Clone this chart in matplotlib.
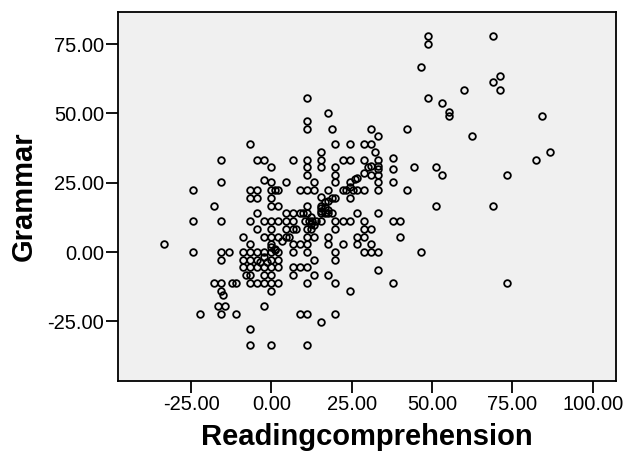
import matplotlib
matplotlib.use("Agg")
import matplotlib.pyplot as plt

plt.rcParams['font.family'] = ['Liberation Sans', 'DejaVu Sans']

# Readingcomprehension (x) and Grammar (y)
reading = [48.8, 48.8, 68.9, 46.6, 71.1, 68.9, 71.1, 59.9, 48.8, 53.2,
           55.4, 55.4, 84.3, 62.3, 42.1, 86.7, 82.2, 44.5, 51.1, 53.2,
           73.2, 51.1, 68.9, 46.6, 73.2, 42.1,
           11.1, 11.1, 11.1, 17.7, 18.8, 31.0, 33.2, -6.7, 19.9, 24.4,
           28.8, 31.0, 15.4, 32.1, -15.6, -4.5, -2.2, 6.6, 11.1, 15.4,
           22.2, 24.4, 28.8, 33.2, 37.7, 0.0, 11.1, 15.4, 19.9, 30.0,
           31.0, 33.2, 33.2, 37.7, 11.1, 19.9, 28.8, 31.0, 33.2, 26.0,
           26.5, -15.6, -2.2, 0.0, 4.4, 13.3, 19.9, 24.4, 33.2, 37.7,
           -24.4, -6.7, -4.5, 0.0, 1.1, 2.2, 8.8, 11.1, 13.3, 17.7,
           22.2, 23.3, 25.5, 26.5, 28.8, 33.2, 24.4, -6.7, -4.5, 0.0,
           15.4, 17.7, 18.8, 19.9, 24.4, 16.6, -17.8, 0.0, 2.2, 11.1,
           15.4, 15.4, 16.6, 15.4, 17.7, -4.5, 4.4, 6.6, 8.8, 9.9,
           11.1, 15.4, 16.6, 17.7, 18.8, 26.5, 33.2, 12.2, -24.4, -15.6,
           -6.7, -2.2, 0.0, 2.2, 4.4, 6.6, 10.5, 11.6, 12.7, 13.8,
           15.4, 19.9, 22.2, 24.4, 28.8, 37.7, 40.0, 12.2, 13.3, -4.5,
           0.0, 4.4, 6.6, 7.7, 11.1, 12.2, 19.9, 28.8, 31.0, -8.8,
           -2.2, 0.0, 2.2, 4.4, 5.5, 11.1, 13.3, 17.7, 26.5, 28.8,
           40.0, 3.4, -33.4, -6.7, 0.0, 6.6, 8.8, 11.1, 17.7, 22.2,
           26.5, 31.0, 0.0, 1.1, -24.4, -15.6, -13.3, -8.8, -6.7, -4.5,
           -2.2, 2.2, 6.6, 11.1, 19.9, 28.8, 31.0, 33.2, 0.0, 1.1,
           -15.6, -8.8, -6.7, -4.5, -2.2, 0.0, 2.2, 13.3, 19.9, -3.5,
           -1.3, -8.8, -6.7, -4.5, -2.2, 0.0, 2.2, 6.6, 8.8, 11.1,
           33.2, -7.8, -6.7, -2.2, 0.0, 6.6, 13.3, 17.7, -17.8, -15.6,
           -12.2, -11.1, -6.7, -4.5, -2.2, 0.0, 2.2, 11.1, 19.9, 37.7,
           -15.6, 0.0, 24.4, -15.2, -16.7, -14.5, -2.2, -22.2, -15.6, -11.1,
           8.8, 11.1, 19.9, 15.4, -6.7, -6.7, 0.0, 11.1]
grammar = [77.8, 74.9, 77.8, 66.6, 63.4, 61.2, 58.4, 58.4, 55.7, 53.7,
           50.6, 48.9, 48.9, 41.7, 44.5, 36.1, 33.3, 30.6, 30.6, 27.8,
           27.8, 16.6, 16.6, 0.0, -11.1, 22.3,
           55.7, 47.3, 44.5, 50.0, 44.5, 44.5, 41.7, 38.9, 38.9, 38.9,
           38.9, 38.9, 36.1, 36.1, 33.3, 33.3, 33.3, 33.3, 33.3, 33.3,
           33.3, 33.3, 33.3, 33.3, 33.9, 30.6, 30.6, 30.6, 30.6, 30.6,
           31.2, 31.2, 30.1, 30.0, 27.8, 27.8, 28.4, 27.8, 27.8, 26.5,
           26.7, 25.1, 25.8, 25.1, 25.1, 25.1, 25.1, 25.1, 25.1, 25.1,
           22.3, 22.3, 22.3, 22.3, 22.3, 22.3, 22.3, 22.3, 22.3, 22.3,
           22.3, 22.3, 22.3, 22.3, 22.3, 22.3, 23.5, 19.5, 19.5, 19.5,
           20.0, 18.4, 19.5, 19.5, 19.5, 18.0, 16.6, 16.6, 16.6, 16.6,
           16.6, 15.7, 16.3, 14.7, 15.0, 13.9, 13.9, 13.9, 13.9, 13.9,
           13.9, 13.9, 13.9, 13.9, 13.9, 13.9, 13.9, 12.7, 11.1, 11.1,
           11.1, 11.1, 11.1, 11.1, 11.1, 11.1, 11.1, 11.1, 11.1, 11.1,
           11.1, 11.1, 11.1, 11.1, 11.1, 11.1, 11.1, 10.0, 9.6, 8.3,
           8.3, 8.3, 8.3, 8.3, 8.3, 8.3, 8.3, 8.3, 8.3, 5.5,
           5.5, 5.5, 5.5, 5.5, 5.5, 5.5, 5.5, 5.5, 5.5, 5.5,
           5.5, 4.0, 2.8, 2.8, 2.8, 2.8, 2.8, 2.8, 2.8, 2.8,
           2.8, 2.8, 1.8, 1.2, 0.0, 0.0, 0.0, 0.0, 0.0, 0.0,
           0.0, 0.0, 0.0, 0.0, 0.0, 0.0, 0.0, 0.0, 0.0, 0.6,
           -2.8, -2.8, -2.8, -2.8, -1.8, -2.8, -2.8, -2.8, -2.8, -3.6,
           -3.6, -5.5, -5.5, -5.5, -5.5, -5.5, -5.5, -5.5, -5.5, -5.5,
           -6.6, -8.3, -8.3, -8.3, -8.3, -8.3, -8.3, -8.3, -11.1, -11.1,
           -11.1, -11.1, -11.1, -11.1, -11.1, -11.1, -11.1, -11.1, -11.1, -11.1,
           -13.9, -13.9, -13.9, -15.4, -19.4, -19.4, -19.4, -22.3, -22.3, -22.3,
           -22.3, -22.3, -22.3, -25.1, -27.8, -33.4, -33.4, -33.4]

xticks = [-25, 0, 25, 50, 75, 100]
yticks = [-25, 0, 25, 50, 75]

fig = plt.figure(figsize=(6.25, 4.57), dpi=100)
ax = fig.add_axes([0.189, 0.167, 0.796, 0.807])
ax.set_facecolor('#f0f0f0')

ax.plot(reading, grammar, 'o', ls='none', ms=4.8, mfc='none', mec='black', mew=1.3)

ax.set_xlim(-47.7, 107.1)
ax.set_ylim(-46.4, 86.6)
ax.set_xticks(xticks)
ax.set_yticks(yticks)
ax.set_xticklabels(['%.2f' % v for v in xticks])
ax.set_yticklabels(['%.2f' % v for v in yticks])
ax.tick_params(direction='out', length=8.5, width=1.3, labelsize=14.5, pad=1.5, color='black')
for s in ax.spines.values():
    s.set_linewidth(1.3)

ax.set_xlabel('Readingcomprehension', fontsize=21, fontweight='bold', labelpad=7)
ax.set_ylabel('Grammar', fontsize=21, fontweight='bold', labelpad=7)

fig.savefig('out.png', dpi=100)
